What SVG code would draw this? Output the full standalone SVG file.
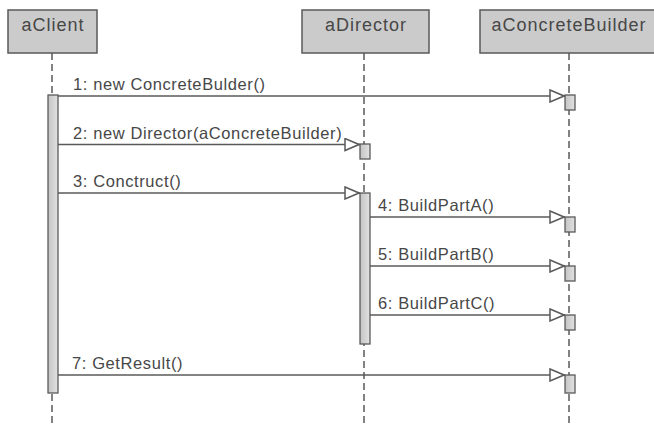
<svg xmlns="http://www.w3.org/2000/svg" width="654" height="424" viewBox="0 0 654 424">
<style>
.head{fill:#cbcbcb;stroke:#5a5a5a;stroke-width:1.5}
.lbl{font-family:"Liberation Sans",Arial,sans-serif;font-size:18px;letter-spacing:1px;fill:#474747;text-anchor:middle}
.life{stroke:#5a5a5a;stroke-width:1.5;stroke-dasharray:7 4;fill:none}
.act{fill:url(#g);stroke:#5a5a5a;stroke-width:1.3}
.msg{stroke:#5a5a5a;stroke-width:1.5;fill:none;marker-end:url(#ar)}
.mt{font-family:"Liberation Sans",Arial,sans-serif;font-size:16.5px;letter-spacing:0.6px;fill:#474747}
</style>
<defs>
<linearGradient id="g" x1="0" y1="0" x2="1" y2="0">
<stop offset="0" stop-color="#c4c4c4"/>
<stop offset="1" stop-color="#e2e2e2"/>
</linearGradient>
<marker id="ar" markerUnits="userSpaceOnUse" viewBox="0 0 16 14" refX="16" refY="7" markerWidth="16" markerHeight="14" orient="auto">
<path d="M1,1 L15,7 L1,13 Z" fill="#ffffff" stroke="#5a5a5a" stroke-width="1.5"/>
</marker>
</defs>
<rect width="654" height="424" fill="#ffffff"/>
<g id="aClient">
<line class="life" x1="52" y1="53" x2="52" y2="424"/>
<rect class="head" x="8" y="10" width="89" height="43"/>
<text class="lbl" x="53" y="31">aClient</text>
<rect class="act" x="48" y="95" width="10" height="298"/>
</g>
<g id="aDirector">
<line class="life" x1="364" y1="53" x2="364" y2="424"/>
<rect class="head" x="302" y="10" width="127" height="43"/>
<text class="lbl" x="366" y="31">aDirector</text>
<rect class="act" x="360" y="144" width="10" height="15"/>
<rect class="act" x="360" y="193" width="10" height="151"/>
</g>
<g id="aConcreteBuilder">
<line class="life" x1="569" y1="53" x2="569" y2="424"/>
<rect class="head" x="480" y="10" width="178" height="43"/>
<text class="lbl" x="569" y="31">aConcreteBuilder</text>
<rect class="act" x="565" y="95" width="10" height="15"/>
<rect class="act" x="565" y="217" width="10" height="15"/>
<rect class="act" x="565" y="266" width="10" height="15"/>
<rect class="act" x="565" y="315" width="10" height="15"/>
<rect class="act" x="565" y="375" width="10" height="18"/>
</g>
<g id="connectors">
<line class="msg" x1="58" y1="96" x2="565" y2="96"/>
<text class="mt" x="73" y="90">1: new ConcreteBulder()</text>
<line class="msg" x1="58" y1="144.5" x2="360" y2="144.5"/>
<text class="mt" x="73" y="138.5">2: new Director(aConcreteBuilder)</text>
<line class="msg" x1="58" y1="193" x2="360" y2="193"/>
<text class="mt" x="73" y="187">3: Conctruct()</text>
<line class="msg" x1="370" y1="217" x2="565" y2="217"/>
<text class="mt" x="378" y="211">4: BuildPartA()</text>
<line class="msg" x1="370" y1="266" x2="565" y2="266"/>
<text class="mt" x="378" y="260">5: BuildPartB()</text>
<line class="msg" x1="370" y1="315" x2="565" y2="315"/>
<text class="mt" x="378" y="309">6: BuildPartC()</text>
<line class="msg" x1="58" y1="375" x2="565" y2="375"/>
<text class="mt" x="72" y="369">7: GetResult()</text>
</g>
</svg>
